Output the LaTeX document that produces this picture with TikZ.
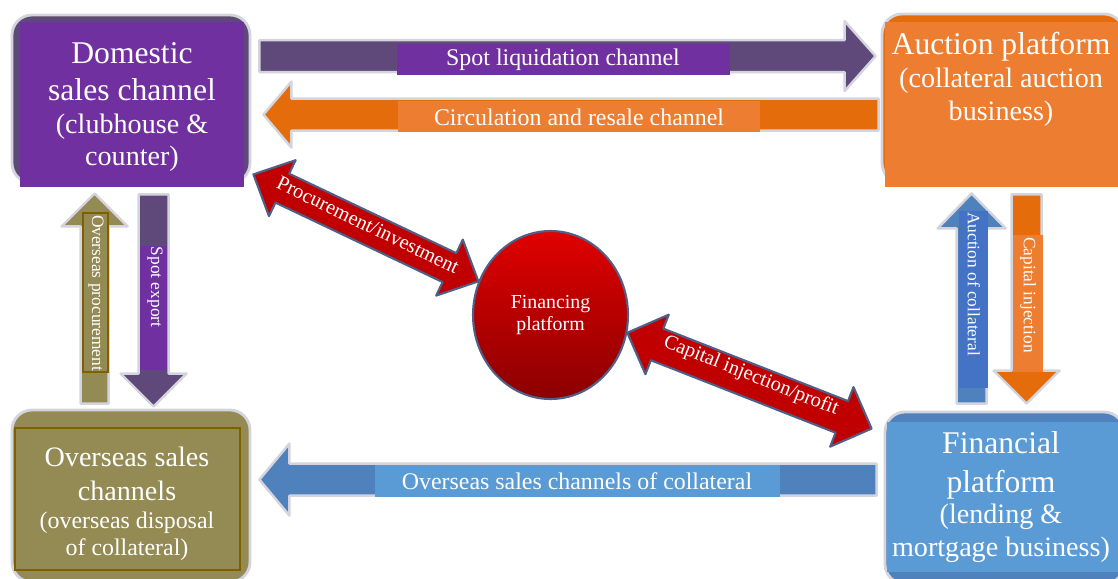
\documentclass[tikz,border=0pt]{standalone}
\usepackage{fontspec}
\setmainfont{Liberation Serif}
\usetikzlibrary{positioning}
\usetikzlibrary{calc}
\usetikzlibrary{fit}
\usetikzlibrary{shapes.geometric}

\definecolor{purpleD}{HTML}{5F497A}
\definecolor{purpleL}{HTML}{7030A0}
\definecolor{orangeD}{HTML}{E46C0A}
\definecolor{orangeL}{HTML}{ED7D31}
\definecolor{blueD}{HTML}{4F81BD}
\definecolor{blueL}{HTML}{5B9BD5}
\definecolor{blueM}{HTML}{4472C4}
\definecolor{olive}{HTML}{948A54}
\definecolor{oliveEdge}{HTML}{7F6000}
\definecolor{fplTop}{HTML}{E00000}
\definecolor{fplMid}{HTML}{C00000}
\definecolor{fplBot}{HTML}{8C0000}
\definecolor{edgeBlue}{HTML}{4F5F85}
\definecolor{halo}{HTML}{D4D4DE}

\newcommand\subsize{\fontsize{16}{18.5}\selectfont}
\newcommand\ovsize{\fontsize{13.6}{15.5}\selectfont}

% block arrow: colour, from, to, half shaft, half head, head length (px)
\newcommand\blockarrow[6]{%
  \pgfmathsetlengthmacro\bashaft{#4*0.02cm}%
  \pgfmathsetlengthmacro\bahead{#5*0.02cm}%
  \pgfmathsetlengthmacro\bahlen{#6*0.02cm}%
  \path (#2) coordinate (ba-a) (#3) coordinate (ba-b);
  \path ($(ba-b)!\bahlen!(ba-a)$) coordinate (ba-h);
  \filldraw[fill=#1, draw=halo, line width=1.4pt, line join=round]
    ($(ba-a)!\bashaft!90:(ba-b)$) -- ($(ba-h)!\bashaft!90:(ba-b)$)
    -- ($(ba-h)!\bahead!90:(ba-b)$) -- (ba-b)
    -- ($(ba-h)!\bahead!-90:(ba-b)$) -- ($(ba-h)!\bashaft!-90:(ba-b)$)
    -- ($(ba-a)!\bashaft!-90:(ba-b)$) -- cycle;
}
% double block arrow: from, to, half shaft, half head, head length (px)
\newcommand\dblarrow[5]{%
  \pgfmathsetlengthmacro\bashaft{#3*0.02cm}%
  \pgfmathsetlengthmacro\bahead{#4*0.02cm}%
  \pgfmathsetlengthmacro\bahlen{#5*0.02cm}%
  \path (#1) coordinate (ba-a) (#2) coordinate (ba-b);
  \path ($(ba-a)!\bahlen!(ba-b)$) coordinate (ba-p)
        ($(ba-b)!\bahlen!(ba-a)$) coordinate (ba-q);
  \filldraw[fill=fplMid, draw=edgeBlue, line width=1.2pt, line join=round]
    (ba-a) -- ($(ba-p)!\bahead!90:(ba-b)$) -- ($(ba-p)!\bashaft!90:(ba-b)$)
    -- ($(ba-q)!\bashaft!90:(ba-b)$) -- ($(ba-q)!\bahead!90:(ba-b)$) -- (ba-b)
    -- ($(ba-q)!\bahead!-90:(ba-b)$) -- ($(ba-q)!\bashaft!-90:(ba-b)$)
    -- ($(ba-p)!\bashaft!-90:(ba-b)$) -- ($(ba-p)!\bahead!-90:(ba-b)$) -- cycle;
}

\begin{document}
\begin{tikzpicture}[x=0.02cm,y=-0.02cm,
  box/.style={inner sep=0pt, rounded corners=0.4cm, draw=halo, line width=1.6pt},
  title/.style={text=white, align=center, inner sep=0pt, font=\fontsize{18}{21}\selectfont},
  lbl/.style={text=white, inner sep=0pt, font=\fontsize{13.6}{16}\selectfont},
  vlbl/.style={text=white, inner sep=0pt, rotate=-90, font=\fontsize{9.9}{12}\selectfont},
  dlbl/.style={text=white, inner sep=0pt, font=\fontsize{11.6}{14}\selectfont}]
\useasboundingbox (0,0) rectangle (1118,578);

% the four platforms
\node[box, fill=purpleD, fit={(12,15) (250,183)}] (dom) {};
\fill[purpleL] (20,22) rectangle (244,187);
\node[title] (domtxt) at (132,107) {Domestic\\ sales channel\\[-2.3pt]
  \subsize (clubhouse \&\\[-2.8pt] \subsize counter)};

\node[box, fill=orangeD, fit={(882,14) (1124,183)}] (auc) {};
\fill[orangeL] (885,22) rectangle (1118,187);
\node[title, anchor=north] (auctxt) at (1001,32)
  {Auction platform\\[-2.3pt] \subsize (collateral auction\\[-2.3pt] \subsize business)};

\node[box, fill=olive, fit={(12,410) (250,582)}] (ovs) {};
\draw[oliveEdge, line width=1pt, fill=olive] (15,428) rectangle (240,570);
\node[title, font=\fontsize{16}{19.3}\selectfont] (ovstxt) at (127,504) {Overseas sales\\ channels\\[-3.4pt]
  \ovsize (overseas disposal\\[-4pt] \ovsize of collateral)};

\node[box, fill=blueD, fit={(885,412) (1124,584)}] (fin) {};
\fill[blueL] (887,422) rectangle (1118,572);
\node[title] (fintxt) at (1001,497) {Financial\\[1pt] platform\\[-3.4pt]
  \subsize (lending \&\\[-2.3pt] \subsize mortgage business)};

\node[ellipse, draw=edgeBlue, line width=1.2pt, minimum width=3.1cm, minimum height=3.36cm,
  top color=fplTop, middle color=fplMid, bottom color=fplBot, inner sep=0pt,
  text=white, align=center, font=\fontsize{11.3}{12.5}\selectfont] (fpl) at (550.5,315)
  {Financing\\ platform};

% horizontal arrows
\blockarrow{purpleD}{$(dom.north east)+(8,42.5)$}{$(auc.north west)+(-5,43.5)$}{16}{35}{31}
\fill[purpleL] (397,44) rectangle (730,75);
\node[lbl] (sllbl) at (563,60) {Spot liquidation channel};

\blockarrow{orangeD}{$(auc.north west)+(-2,102)$}{$(dom.north east)+(12,101)$}{16}{33}{28}
\fill[orangeL] (398,101) rectangle (760,132);
\node[lbl] (crlbl) at (579,117) {Circulation and resale channel};

\blockarrow{blueD}{$(fin.north west)+(-7,69)$}{$(ovs.north east)+(8,71)$}{16}{36}{30}
\fill[blueL] (375,465) rectangle (780,497);
\node[lbl] (oslbl) at (577,481) {Overseas sales channels of collateral};

% vertical arrows
\blockarrow{olive}{$(ovs.north west)+(84,-5)$}{$(dom.south west)+(84,9)$}{14}{33}{33}
\draw[oliveEdge, line width=1pt] (83,213) rectangle (108,372);
\node[vlbl] (oplbl) at (96,293) {Overseas procurement};

\blockarrow{purpleD}{$(dom.south west)+(143,10)$}{$(ovs.north west)+(143,-2)$}{15}{33}{33}
\fill[purpleL] (140,246) rectangle (167,370);
\node[vlbl] (selbl) at (155,287) {Spot export};

\blockarrow{blueD}{$(fin.north west)+(88,-7)$}{$(auc.south west)+(91,9)$}{15}{34}{35}
\fill[blueM] (959,211) rectangle (988,388);
\node[vlbl] (aclbl) at (974,284) {Auction of collateral};

\blockarrow{orangeD}{$(auc.south west)+(146,10)$}{$(fin.north west)+(143,-7)$}{15}{33}{33}
\fill[orangeL] (1013,235) rectangle (1043,372);
\node[vlbl] (cilbl) at (1028,295) {Capital injection};

% financing platform links
\dblarrow{$(dom.south east)+(2,-10)$}{fpl.155}{16}{31}{32}
\node[dlbl, rotate=-25.7] (pilbl) at (368,225) {Procurement/investment};

\dblarrow{fpl.-13}{$(fin.north west)+(-12,18)$}{17}{32}{32}
\node[dlbl, rotate=-21.6] (cplbl) at (751,376) {Capital injection/profit};

\end{tikzpicture}
\end{document}
